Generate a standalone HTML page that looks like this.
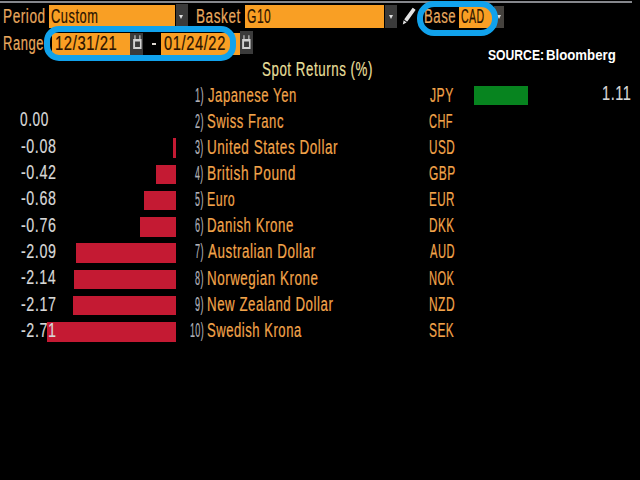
<!DOCTYPE html>
<html><head><meta charset="utf-8">
<style>
html,body{margin:0;padding:0;background:#000;}
body{width:640px;height:480px;position:relative;overflow:hidden;font-family:"Liberation Sans",sans-serif;}
.a{position:absolute;}
.t{position:absolute;font-size:19.5px;line-height:19.5px;white-space:nowrap;transform-origin:0 0;-webkit-text-stroke:0.2px currentColor;}
.tri{position:absolute;width:0;height:0;border-left:2.5px solid transparent;border-right:2.5px solid transparent;border-top:4.5px solid #e0e0e0;}
.ring{position:absolute;border:6px solid #11a2ec;box-sizing:border-box;}
</style></head><body>
<div class="a" style="left:0;top:1.2px;width:632px;height:2px;background:#85878c;"></div>
<div class="t" style="left:2.93px;top:6.99px;color:#e8a85e;transform:scaleX(0.6982);letter-spacing:0.8px;">Period</div>
<div class="a" style="left:49.2px;top:5px;width:126.3px;height:22.75px;background:#f99f24;"></div>
<div class="t" style="left:50.92px;top:6.99px;color:#2b1300;transform:scaleX(0.6578);letter-spacing:0.8px;">Custom</div>
<div class="a" style="left:175.9px;top:4px;width:12.6px;height:23px;background:#3b3b3b;"></div>
<div class="tri" style="left:179.1px;top:15px;"></div>
<div class="t" style="left:196.43px;top:6.99px;color:#e8a85e;transform:scaleX(0.6965);letter-spacing:0.8px;">Basket</div>
<div class="a" style="left:244.7px;top:5px;width:139.55px;height:22.75px;background:#f99f24;"></div>
<div class="t" style="left:246.83px;top:6.99px;color:#2b1300;transform:scaleX(0.6185);letter-spacing:0.8px;">G10</div>
<div class="a" style="left:385px;top:4.5px;width:12.4px;height:23.5px;background:#3b3b3b;"></div>
<div class="tri" style="left:388.7px;top:14.6px;"></div>
<svg class="a" style="left:398px;top:3px;" width="22" height="26" viewBox="0 0 22 26">
  <g transform="translate(4.8 21.6) rotate(-54.3)" fill="#e2e2e2">
    <path d="M0 0 L4 -1.8 L4 1.8 Z"/>
    <rect x="4.9" y="-1.9" width="14.6" height="3.8" rx="0.6"/>
  </g>
</svg>
<div class="t" style="left:424.26px;top:6.99px;color:#e8a85e;transform:scaleX(0.6760);letter-spacing:0.8px;">Base</div>
<div class="a" style="left:459.3px;top:7.3px;width:33px;height:20.7px;background:#f99f24;"></div>
<div class="t" style="left:461.45px;top:7.24px;color:#2b1300;transform:scaleX(0.5391);letter-spacing:0.8px;">CAD</div>
<div class="a" style="left:494px;top:5.5px;width:10px;height:22px;background:#45423e;"></div>
<div class="tri" style="left:496.5px;top:14.6px;"></div>
<div class="ring" style="left:417px;top:1.4px;width:81px;height:34.2px;border-radius:17.1px;"></div>
<div class="t" style="left:2.73px;top:34.49px;color:#e8a85e;transform:scaleX(0.6657);letter-spacing:0.8px;">Range</div>
<div class="a" style="left:52px;top:32.5px;width:78.3px;height:22px;background:#f99f24;"></div>
<div class="t" style="left:54.51px;top:34.49px;color:#2b1300;transform:scaleX(0.7587);letter-spacing:0.8px;">12/31/21</div>
<div class="a" style="left:130.3px;top:32.5px;width:13px;height:22px;background:#3b3b3b;"></div>
<svg class="a" style="left:132.25px;top:35px;" width="11" height="15" viewBox="0 0 11 15"><path fill="#a8a8a8" d="M2.2 0.3h1.5v3.8h-1.5z M7.1 0.3h1.5v3.8h-1.5z"/><path fill="#d2d2d2" fill-rule="evenodd" d="M1.15 3.9h8.4v10.1h-8.4z M3.05 6.6v5.5h4.9v-5.5z"/></svg>
<div class="a" style="left:151.7px;top:42.6px;width:4.8px;height:2.2px;background:#dcd6d0;"></div>
<div class="a" style="left:160.6px;top:32.5px;width:79.2px;height:22px;background:#f99f24;"></div>
<div class="t" style="left:163.86px;top:34.49px;color:#2b1300;transform:scaleX(0.7519);letter-spacing:0.8px;">01/24/22</div>
<div class="a" style="left:240.4px;top:31px;width:12.5px;height:23.3px;background:#3b3b3b;"></div>
<svg class="a" style="left:241.1px;top:35px;" width="11" height="15" viewBox="0 0 11 15"><path fill="#a8a8a8" d="M2.2 0.3h1.5v3.8h-1.5z M7.1 0.3h1.5v3.8h-1.5z"/><path fill="#d2d2d2" fill-rule="evenodd" d="M1.15 3.9h8.4v10.1h-8.4z M3.05 6.6v5.5h4.9v-5.5z"/></svg>
<div class="ring" style="left:43.75px;top:26.1px;width:192.3px;height:34.7px;border-radius:15px;"></div>
<div class="a" style="left:487.65px;top:47px;font-size:14px;line-height:16px;font-weight:bold;color:#fff;white-space:nowrap;transform-origin:0 0;transform:scaleX(0.868);">SOURCE:</div>
<div class="a" style="left:546.15px;top:47px;font-size:14px;line-height:16px;font-weight:bold;color:#fff;white-space:nowrap;transform-origin:0 0;transform:scaleX(0.944);">Bloomberg</div>
<div class="t" style="left:262.37px;top:59.69px;color:#e6df9a;transform:scaleX(0.6835);letter-spacing:0.8px;">Spot Returns (%)</div>
<div class="a" style="left:474.4px;top:85.75px;width:53.17px;height:19.6px;background:#07841f;"></div>
<div class="t" style="left:601.93px;top:83.79px;color:#d8d8d8;transform:scaleX(0.7430);letter-spacing:0.8px;">1.11</div>
<div class="t" style="left:194.61px;top:85.89px;color:#b0b0b8;transform:scaleX(0.4814);letter-spacing:0.8px;">1)</div>
<div class="t" style="left:207.59px;top:85.89px;color:#f2a44a;transform:scaleX(0.6723);letter-spacing:0.8px;">Japanese Yen</div>
<div class="t" style="left:429.81px;top:85.89px;color:#f2a44a;transform:scaleX(0.6230);letter-spacing:0.8px;">JPY</div>
<div class="t" style="left:20.30px;top:110.17px;color:#d8d8d8;transform:scaleX(0.7004);letter-spacing:0.8px;">0.00</div>
<div class="t" style="left:194.87px;top:111.99px;color:#b0b0b8;transform:scaleX(0.4661);letter-spacing:0.8px;">2)</div>
<div class="t" style="left:207.18px;top:111.99px;color:#f2a44a;transform:scaleX(0.6694);letter-spacing:0.8px;">Swiss Franc</div>
<div class="t" style="left:429.42px;top:111.99px;color:#f2a44a;transform:scaleX(0.5642);letter-spacing:0.8px;">CHF</div>
<div class="a" style="left:172.67px;top:138.25px;width:3.83px;height:19.6px;background:#c41a33;"></div>
<div class="t" style="left:21.00px;top:136.54px;color:#d8d8d8;transform:scaleX(0.7305);letter-spacing:0.8px;">-0.08</div>
<div class="t" style="left:194.97px;top:138.09px;color:#b0b0b8;transform:scaleX(0.4602);letter-spacing:0.8px;">3)</div>
<div class="t" style="left:206.73px;top:138.09px;color:#f2a44a;transform:scaleX(0.6920);letter-spacing:0.8px;">United States Dollar</div>
<div class="t" style="left:429.08px;top:138.09px;color:#f2a44a;transform:scaleX(0.6006);letter-spacing:0.8px;">USD</div>
<div class="a" style="left:156.38px;top:164.50px;width:20.12px;height:19.6px;background:#c41a33;"></div>
<div class="t" style="left:21.00px;top:162.92px;color:#d8d8d8;transform:scaleX(0.7338);letter-spacing:0.8px;">-0.42</div>
<div class="t" style="left:195.11px;top:164.19px;color:#b0b0b8;transform:scaleX(0.4517);letter-spacing:0.8px;">4)</div>
<div class="t" style="left:206.72px;top:164.19px;color:#f2a44a;transform:scaleX(0.7042);letter-spacing:0.8px;">British Pound</div>
<div class="t" style="left:429.44px;top:164.19px;color:#f2a44a;transform:scaleX(0.6111);letter-spacing:0.8px;">GBP</div>
<div class="a" style="left:143.93px;top:190.75px;width:32.57px;height:19.6px;background:#c41a33;"></div>
<div class="t" style="left:21.00px;top:189.29px;color:#d8d8d8;transform:scaleX(0.7305);letter-spacing:0.8px;">-0.68</div>
<div class="t" style="left:194.92px;top:190.29px;color:#b0b0b8;transform:scaleX(0.4631);letter-spacing:0.8px;">5)</div>
<div class="t" style="left:206.82px;top:190.29px;color:#f2a44a;transform:scaleX(0.6344);letter-spacing:0.8px;">Euro</div>
<div class="t" style="left:429.08px;top:190.29px;color:#f2a44a;transform:scaleX(0.5957);letter-spacing:0.8px;">EUR</div>
<div class="a" style="left:140.10px;top:217.00px;width:36.40px;height:19.6px;background:#c41a33;"></div>
<div class="t" style="left:21.00px;top:215.67px;color:#d8d8d8;transform:scaleX(0.7321);letter-spacing:0.8px;">-0.76</div>
<div class="t" style="left:194.82px;top:216.39px;color:#b0b0b8;transform:scaleX(0.4691);letter-spacing:0.8px;">6)</div>
<div class="t" style="left:206.75px;top:216.39px;color:#f2a44a;transform:scaleX(0.6799);letter-spacing:0.8px;">Danish Krone</div>
<div class="t" style="left:429.07px;top:216.39px;color:#f2a44a;transform:scaleX(0.6018);letter-spacing:0.8px;">DKK</div>
<div class="a" style="left:76.39px;top:243.25px;width:100.11px;height:19.6px;background:#c41a33;"></div>
<div class="t" style="left:21.00px;top:242.04px;color:#d8d8d8;transform:scaleX(0.7321);letter-spacing:0.8px;">-2.09</div>
<div class="t" style="left:194.82px;top:242.49px;color:#b0b0b8;transform:scaleX(0.4691);letter-spacing:0.8px;">7)</div>
<div class="t" style="left:207.80px;top:242.49px;color:#f2a44a;transform:scaleX(0.6872);letter-spacing:0.8px;">Australian Dollar</div>
<div class="t" style="left:430.00px;top:242.49px;color:#f2a44a;transform:scaleX(0.5737);letter-spacing:0.8px;">AUD</div>
<div class="a" style="left:73.99px;top:269.50px;width:102.51px;height:19.6px;background:#c41a33;"></div>
<div class="t" style="left:21.00px;top:268.42px;color:#d8d8d8;transform:scaleX(0.7272);letter-spacing:0.8px;">-2.14</div>
<div class="t" style="left:194.92px;top:268.59px;color:#b0b0b8;transform:scaleX(0.4631);letter-spacing:0.8px;">8)</div>
<div class="t" style="left:206.75px;top:268.59px;color:#f2a44a;transform:scaleX(0.6851);letter-spacing:0.8px;">Norwegian Krone</div>
<div class="t" style="left:429.12px;top:268.59px;color:#f2a44a;transform:scaleX(0.5709);letter-spacing:0.8px;">NOK</div>
<div class="a" style="left:72.56px;top:295.75px;width:103.94px;height:19.6px;background:#c41a33;"></div>
<div class="t" style="left:21.00px;top:294.79px;color:#d8d8d8;transform:scaleX(0.7338);letter-spacing:0.8px;">-2.17</div>
<div class="t" style="left:194.87px;top:294.69px;color:#b0b0b8;transform:scaleX(0.4661);letter-spacing:0.8px;">9)</div>
<div class="t" style="left:206.75px;top:294.69px;color:#f2a44a;transform:scaleX(0.6811);letter-spacing:0.8px;">New Zealand Dollar</div>
<div class="t" style="left:429.06px;top:294.69px;color:#f2a44a;transform:scaleX(0.6128);letter-spacing:0.8px;">NZD</div>
<div class="a" style="left:46.69px;top:322.00px;width:129.81px;height:19.6px;background:#c41a33;"></div>
<div class="t" style="left:21.00px;top:321.17px;color:#d8d8d8;transform:scaleX(0.7338);letter-spacing:0.8px;">-2.71</div>
<div class="t" style="left:189.64px;top:320.79px;color:#b0b0b8;transform:scaleX(0.4603);letter-spacing:0.8px;">10)</div>
<div class="t" style="left:207.18px;top:320.79px;color:#f2a44a;transform:scaleX(0.6693);letter-spacing:0.8px;">Swedish Krona</div>
<div class="t" style="left:429.44px;top:320.79px;color:#f2a44a;transform:scaleX(0.6096);letter-spacing:0.8px;">SEK</div>
</body></html>
